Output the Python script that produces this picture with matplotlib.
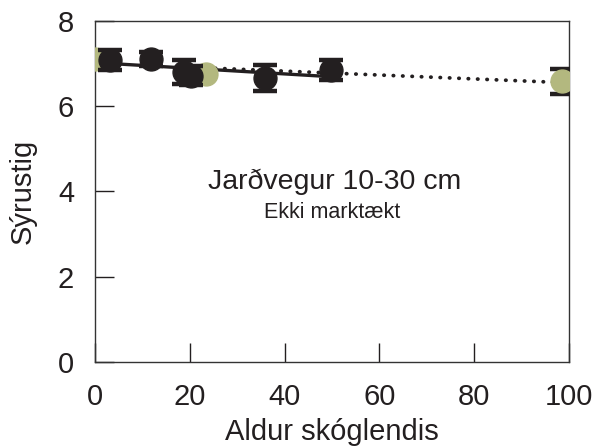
import matplotlib.pyplot as plt
import numpy as np
#
plt.rcParams['font.family']=['Liberation Sans','DejaVu Sans']
#
#--forest plots (black) and reference plots (green)
age_forest=[3.2,11.8,18.8,20.2,35.8,49.7]
ph_forest=[7.07,7.10,6.80,6.71,6.65,6.84]
err_forest=[0.23,0.17,0.28,0.22,0.30,0.23]
age_ref=[0.0,23.4,98.5]
ph_ref=[7.10,6.76,6.58]
err_ref=[0.0,0.0,0.29]
#
black='#231f20'
green='#b3b87f'
#
fig=plt.figure(figsize=(5.96,4.48),dpi=100)
ax=fig.add_axes([0.1594,0.192,0.7953,0.762])
#
#--regression lines
a,b=np.polyfit(age_ref,ph_ref,1)
xr=np.array([age_ref[1],age_ref[-1]])
ax.plot(xr,a*xr+b,color=black,lw=2.7,linestyle=(0,(0.1,2.4)),dash_capstyle='round',zorder=1)
a,b=np.polyfit(age_forest,ph_forest,1)
xf=np.array([age_forest[0],age_forest[-1]])
ax.plot(xf,a*xf+b,color=black,lw=2.4,zorder=2)
#
#--points with error bars
ax.errorbar(age_ref,ph_ref,yerr=err_ref,fmt='o',ms=16.5,color=green,mec=green,
            ecolor=black,elinewidth=2,capsize=8.5,capthick=3.2,zorder=3)
ax.errorbar(age_forest,ph_forest,yerr=err_forest,fmt='o',ms=16.5,color=black,mec=black,
            ecolor=black,elinewidth=2,capsize=8.5,capthick=3.2,zorder=4)
#
ax.text(50.6,4.23,'Jarðvegur 10-30 cm',ha='center',va='center',fontsize=20.5,color=black)
ax.text(50.0,3.51,'Ekki marktækt',ha='center',va='center',fontsize=15.5,color=black)
#
ax.set_xlim(0,100)
ax.set_ylim(0,8)
ax.set_xticks([0,20,40,60,80,100])
ax.set_yticks([0,2,4,6,8])
ax.tick_params(direction='in',length=14,width=1,pad=15,labelsize=21,colors=black,
               top=False,right=False)
for s in ax.spines.values():
    s.set_linewidth(1)
    s.set_color('#333333')
ax.set_xlabel('Aldur skóglendis',fontsize=21,color=black,labelpad=5)
ax.set_ylabel('Sýrustig',fontsize=21,color=black,labelpad=15)
#
fig.savefig('out.png',dpi=100)
